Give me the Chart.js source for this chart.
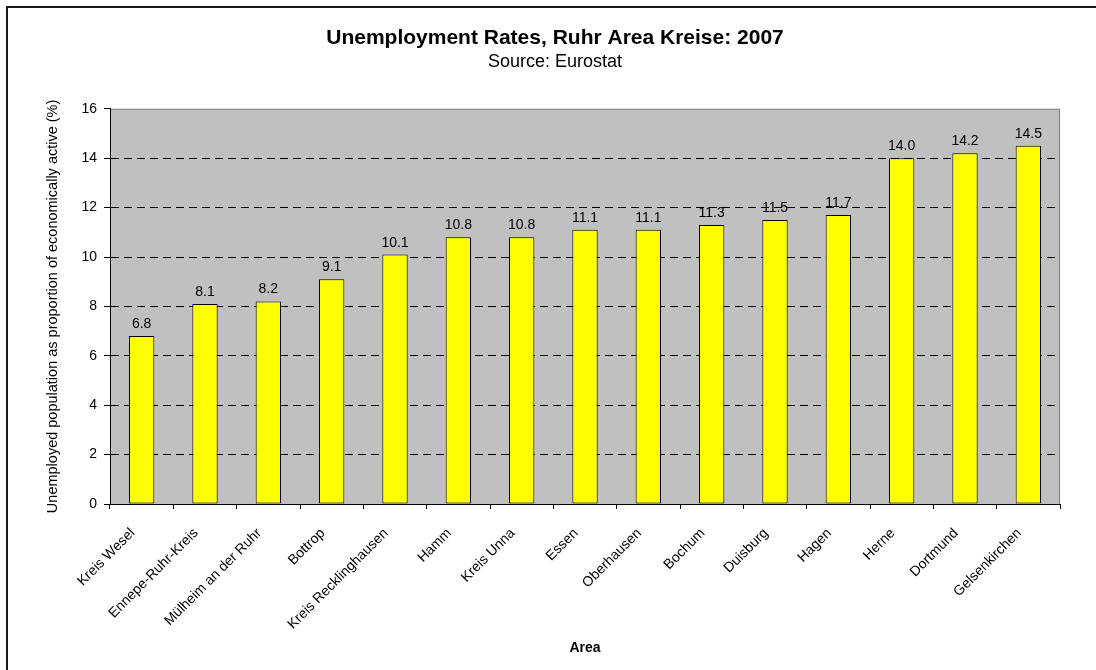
<!DOCTYPE html>
<html>
<head>
<meta charset="utf-8">
<script src="https://cdn.jsdelivr.net/npm/chart.js@4/dist/chart.umd.min.js"></script>
<style>
  html, body { margin: 0; padding: 0; background: #fff; overflow: hidden; }
  #frame { position: absolute; left: 6px; top: 6px; width: 1200px; height: 800px;
           border-left: 2px solid #1a1a1a; border-top: 2px solid #1a1a1a; }
  #wrap { position: absolute; left: 0; top: 0; width: 1096px; height: 670px; }
</style>
</head>
<body>
<div id="frame"></div>
<div id="wrap"><canvas id="chart"></canvas></div>
<script>
// values
const areas = ['Kreis Wesel', 'Ennepe-Ruhr-Kreis', 'Mülheim an der Ruhr', 'Bottrop',
    'Kreis Recklinghausen', 'Hamm', 'Kreis Unna', 'Essen', 'Oberhausen', 'Bochum',
    'Duisburg', 'Hagen', 'Herne', 'Dortmund', 'Gelsenkirchen'];
const rates = [6.8, 8.1, 8.2, 9.1, 10.1, 10.8, 10.8, 11.1, 11.1, 11.3, 11.5, 11.7, 14.0, 14.2, 14.5];
const yTicks = [0, 2, 4, 6, 8, 10, 12, 14, 16];

const FONT = '"Liberation Sans", Arial, sans-serif';

// grey plot area with a thin grey frame, like the old Excel charts
const plotBg = {
    id: 'plotBg',
    beforeDraw(chart) {
        const a = chart.chartArea, ctx = chart.ctx;
        ctx.save();
        ctx.fillStyle = '#c0c0c0';
        ctx.fillRect(a.left, a.top, a.right - a.left, a.bottom - a.top);
        ctx.strokeStyle = '#808080';
        ctx.lineWidth = 1;
        ctx.strokeRect(a.left + 0.5, a.top + 0.5, a.right - a.left - 1, a.bottom - a.top);
        ctx.restore();
    }
};

// value labels above each bar
const barLabels = {
    id: 'barLabels',
    afterDatasetsDraw(chart) {
        const ctx = chart.ctx;
        const meta = chart.getDatasetMeta(0);
        ctx.save();
        ctx.font = '14px ' + FONT;
        ctx.fillStyle = '#000';
        ctx.textAlign = 'center';
        ctx.textBaseline = 'alphabetic';
        meta.data.forEach((bar, i) => {
            ctx.fillText(rates[i].toFixed(1), bar.x, bar.y - 8);
        });
        ctx.restore();
    }
};

new Chart(document.getElementById('chart'), {
    type: 'bar',
    data: {
        labels: areas,
        datasets: [{
            label: 'Unemployment rate',
            data: rates,
            backgroundColor: '#ffff00',
            borderColor: '#000',
            borderWidth: 1,
            borderSkipped: false,
            barPercentage: 0.4,
            categoryPercentage: 1.0
        }]
    },
    options: {
        responsive: true,
        maintainAspectRatio: false,
        animation: false,
        layout: { padding: { left: 50, right: 36, top: 0, bottom: 0 } },
        plugins: {
            legend: { display: false },
            tooltip: { enabled: false },
            title: {
                display: true,
                text: 'Unemployment Rates, Ruhr Area Kreise: 2007',
                color: '#000',
                font: { family: FONT, size: 21, weight: 'bold', lineHeight: 1.2 },
                padding: { top: 26, bottom: 0 }
            },
            subtitle: {
                display: true,
                text: 'Source: Eurostat',
                color: '#000',
                font: { family: FONT, size: 18, lineHeight: 1.2 },
                padding: { top: 0, bottom: 36 }
            }
        },
        scales: {
            x: {
                afterFit: s => { s.height = 166; },
                grid: {
                    display: true,
                    offset: true,
                    drawOnChartArea: false,
                    tickLength: 5,
                    tickColor: '#000'
                },
                border: { display: true, color: '#000', width: 1 },
                ticks: {
                    autoSkip: false,
                    minRotation: 45,
                    maxRotation: 45,
                    padding: 16,
                    labelOffset: -9,
                    color: '#000',
                    font: { family: FONT, size: 14 }
                },
                title: {
                    display: true,
                    text: 'Area',
                    color: '#000',
                    font: { family: FONT, size: 14, weight: 'bold', lineHeight: 1.2 },
                    padding: { top: 4, bottom: 13 }
                }
            },
            y: {
                min: 0,
                max: 16,
                afterFit: s => { s.width = 60; },
                afterBuildTicks: s => { s.ticks = yTicks.map(v => ({ value: v })); },
                grid: {
                    color: c => (c.tick && c.tick.value > 0 && c.tick.value < 16) ? '#000' : 'rgba(0,0,0,0)',
                    lineWidth: 1,
                    tickLength: 6,
                    tickColor: '#000'
                },
                border: { display: true, color: '#000', width: 1, dash: [8, 5] },
                ticks: {
                    padding: 7,
                    color: '#000',
                    font: { family: FONT, size: 14 }
                },
                title: {
                    display: true,
                    text: 'Unemployed population as proportion of economically active (%)',
                    color: '#000',
                    font: { family: FONT, size: 14.5, lineHeight: 1 },
                    padding: { top: -4, bottom: 0 }
                }
            }
        }
    },
    plugins: [plotBg, barLabels]
});
</script>
</body>
</html>
